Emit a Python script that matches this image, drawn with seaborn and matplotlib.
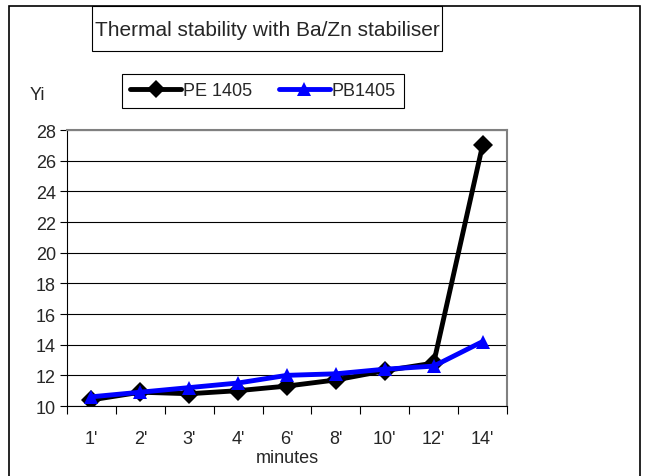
import seaborn as sns
import matplotlib.pyplot as plt
import matplotlib.patches as mpatches
import pandas as pd
import numpy as np

sns.set_style("white")
plt.rcParams['font.family'] = ['Liberation Sans', 'DejaVu Sans']

# Данные
minutes = ["1'", "2'", "3'", "4'", "6'", "8'", "10'", "12'", "14'"]
pe_1405 = [10.4, 10.9, 10.8, 11.0, 11.3, 11.7, 12.3, 12.8, 27.0]
pb1405 = [10.6, 10.9, 11.2, 11.5, 12.0, 12.1, 12.4, 12.6, 14.2]

data = pd.DataFrame({
    'minutes': minutes * 2,
    'Yi': pe_1405 + pb1405,
    'series': ['PE 1405'] * len(minutes) + ['PB1405'] * len(minutes),
})

fig = plt.figure(figsize=(6.53, 4.77), dpi=100)
ax = fig.add_axes([67 / 653, 1 - 407 / 477, 440 / 653, 276 / 477])

sns.lineplot(data=data, x='minutes', y='Yi', hue='series', style='series',
             palette={'PE 1405': 'black', 'PB1405': '#0000ff'},
             markers={'PE 1405': 'D', 'PB1405': '^'}, dashes=False,
             linewidth=3.5, markersize=10, markeredgewidth=0, sort=False,
             ax=ax, legend=False)

ax.set_xlim(-0.5, len(minutes) - 0.5)
ax.set_ylim(10, 28)
ax.set_yticks(np.arange(10, 29, 2))
ax.yaxis.grid(True, color='black', linewidth=0.8)
ax.set_axisbelow(True)

# тики между категориями
ax.set_xticks(np.arange(len(minutes)))
ax.set_xticklabels(minutes)
ax.set_xticks(np.arange(-0.5, len(minutes)), minor=True)
ax.tick_params(axis='x', which='major', length=0, pad=17, labelsize=13)
ax.tick_params(axis='x', which='minor', length=6, width=0.8, color='black',
               direction='out', bottom=True)
ax.tick_params(axis='y', length=5, width=0.8, color='black', direction='out',
               left=True, labelsize=13, pad=3)

for side in ['top', 'right']:
    ax.spines[side].set_color('#808080')
    ax.spines[side].set_linewidth(1.5)
for side in ['left', 'bottom']:
    ax.spines[side].set_color('black')
    ax.spines[side].set_linewidth(0.8)

ax.set_xlabel('minutes', fontsize=13, labelpad=2)
ax.set_ylabel('')
fig.text(37 / 653, 1 - 96 / 477, 'Yi', fontsize=13, ha='center', va='center')

# заголовок в рамке
fig.patches.append(mpatches.Rectangle((92 / 653, 1 - 52 / 477), 350 / 653, 45 / 477,
                                      transform=fig.transFigure, facecolor='white',
                                      edgecolor='black', linewidth=0.8))
fig.text(267 / 653, 1 - 30 / 477, 'Thermal stability with Ba/Zn stabiliser',
         fontsize=15, ha='center', va='center')

# легенда
handles = [
    plt.Line2D([], [], color='black', lw=3.5, marker='D', markersize=9, markeredgewidth=0),
    plt.Line2D([], [], color='#0000ff', lw=3.5, marker='^', markersize=10, markeredgewidth=0),
]
fig.legend(handles, ['PE 1405', 'PB1405'], ncol=2, loc='center',
           bbox_to_anchor=(263 / 653, 1 - 92 / 477), fontsize=13,
           frameon=True, fancybox=False, edgecolor='black', framealpha=1,
           handlelength=2.8, handletextpad=0.1, columnspacing=1.5,
           borderpad=0.45).get_frame().set_linewidth(0.8)

# внешняя рамка
fig.patches.append(mpatches.Rectangle((9 / 653, -0.05), 631 / 653, 1.05 - 7 / 477,
                                      transform=fig.transFigure, fill=False,
                                      edgecolor='black', linewidth=1.2))

fig.savefig('out.png', dpi=100)
